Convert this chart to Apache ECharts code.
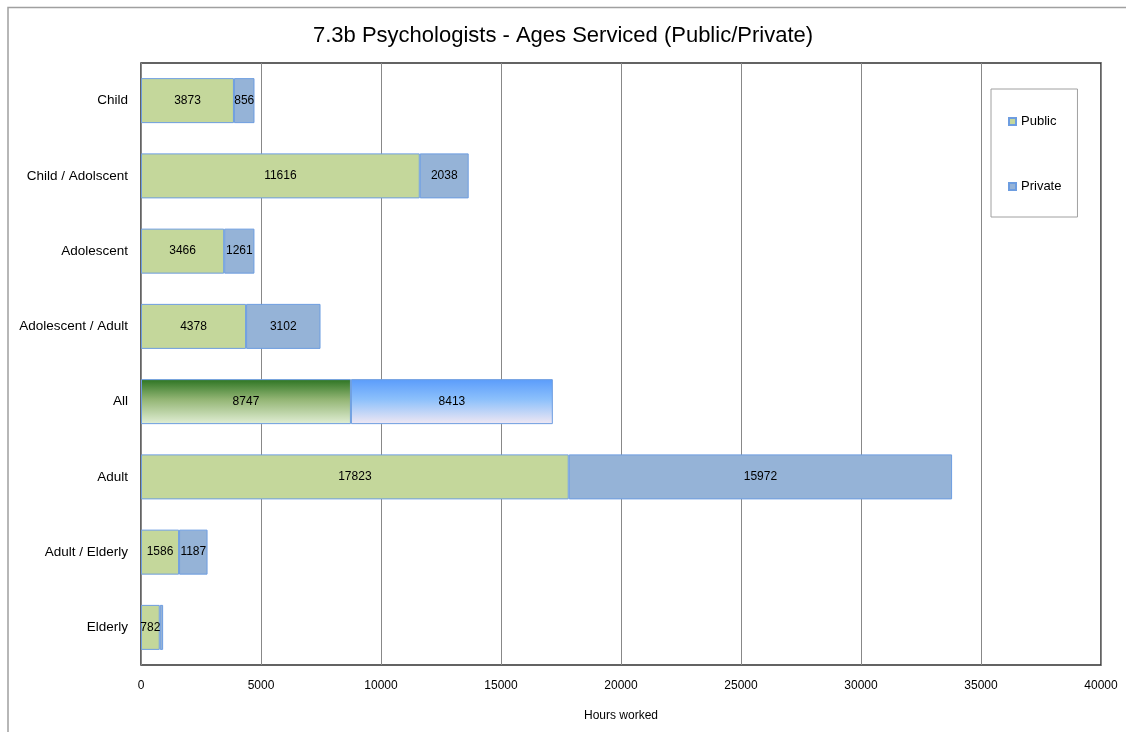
<!DOCTYPE html>
<html>
<head>
<meta charset="utf-8">
<script src="https://cdn.jsdelivr.net/npm/echarts@6/dist/echarts.min.js"></script>
<style>
  html, body { margin: 0; padding: 0; background: #fff; }
  #chart { width: 1126px; height: 732px; }
</style>
</head>
<body>
<div id="chart"></div>
<script>
var categories = ['Child', 'Child / Adolscent', 'Adolescent', 'Adolescent / Adult', 'All', 'Adult', 'Adult / Elderly', 'Elderly'];
var publicHours = [3873, 11616, 3466, 4378, 8747, 17823, 1586, 782];
var privateHours = [856, 2038, 1261, 3102, 8413, 15972, 1187, 140];
var xTicks = [0, 5000, 10000, 15000, 20000, 25000, 30000, 35000, 40000];

var font = 'Liberation Sans, Arial, sans-serif';
var barBorder = '#6d9de0';

var allPublic = {
  type: 'linear', x: 0, y: 0, x2: 0, y2: 1,
  colorStops: [{ offset: 0, color: '#2c7422' }, { offset: 0.45, color: '#93b574' }, { offset: 1, color: '#e2efd6' }]
};
var allPrivate = {
  type: 'linear', x: 0, y: 0, x2: 0, y2: 1,
  colorStops: [{ offset: 0, color: '#5a9cfb' }, { offset: 0.45, color: '#8cc0fb' }, { offset: 1, color: '#f1e8f3' }]
};

function build(values, special) {
  return values.map(function (v, i) {
    var item = { value: v };
    if (categories[i] === 'All') item.itemStyle = { color: special };
    if (v < 300) item.label = { show: false };
    return item;
  });
}

var myChart = echarts.init(document.getElementById('chart'));
var option = {
  backgroundColor: '#fff',
  animation: false,
  textStyle: { fontFamily: font },
  graphic: [{
    type: 'polyline',
    shape: { points: [[8, 732], [8, 7.5], [1126, 7.5]] },
    style: { stroke: '#a0a0a0', lineWidth: 1.5, fill: null }
  }],
  title: {
    text: '7.3b Psychologists - Ages Serviced (Public/Private)',
    left: 'center',
    top: 20,
    textStyle: { fontSize: 22, fontWeight: 'normal', color: '#000', fontFamily: font }
  },
  legend: {
    orient: 'vertical',
    left: 991,
    top: 89,
    padding: [26, 16, 24, 17],
    itemGap: 52,
    itemWidth: 7,
    itemHeight: 7,
    icon: 'rect',
    borderColor: '#a0a0a0',
    borderWidth: 1,
    textStyle: { fontSize: 13, color: '#000', fontFamily: font },
    data: ['Public', 'Private']
  },
  grid: {
    left: 141, right: 25, top: 63, bottom: 67,
    show: true,
    borderColor: '#303030',
    borderWidth: 1.5
  },
  xAxis: {
    type: 'value',
    min: xTicks[0],
    max: xTicks[xTicks.length - 1],
    interval: 5000,
    name: 'Hours worked',
    nameLocation: 'middle',
    nameGap: 45,
    nameTextStyle: { fontSize: 12, color: '#000' },
    axisLine: { show: false },
    axisTick: { show: false },
    axisLabel: { fontSize: 12, color: '#000', margin: 15, formatter: function (v) { return String(v); } },
    splitLine: { lineStyle: { color: '#888', width: 1 } }
  },
  yAxis: {
    type: 'category',
    inverse: true,
    data: categories,
    axisLine: { show: false },
    axisTick: { show: false },
    axisLabel: { fontSize: 13.5, color: '#000', margin: 13 }
  },
  series: [
    {
      name: 'Public', type: 'bar', stack: 'hours', barWidth: 45,
      data: build(publicHours, allPublic),
      itemStyle: { color: '#c4d79b', borderColor: barBorder, borderWidth: 1 },
      label: { show: true, position: 'inside', color: '#000', fontSize: 12 }
    },
    {
      name: 'Private', type: 'bar', stack: 'hours', barWidth: 45,
      data: build(privateHours, allPrivate),
      itemStyle: { color: '#95b3d7', borderColor: barBorder, borderWidth: 1 },
      label: { show: true, position: 'inside', color: '#000', fontSize: 12 }
    }
  ]
};
myChart.setOption(option);
window.onresize = function () { myChart.resize(); };
</script>
</body>
</html>
